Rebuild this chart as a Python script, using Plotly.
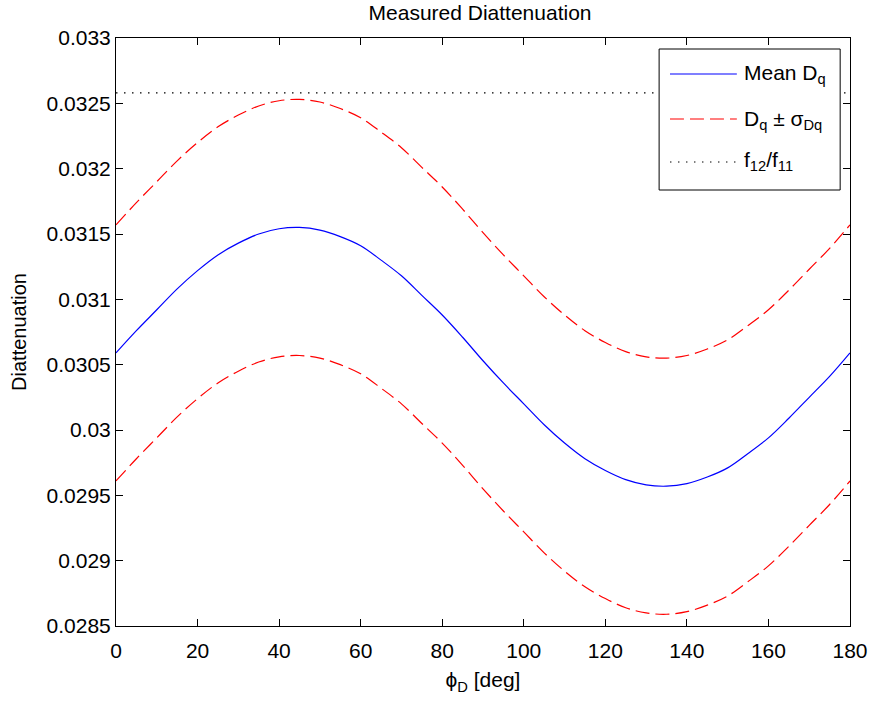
import plotly.graph_objects as go

# ---- data ----
phi_deg = [0, 5, 10, 15, 20, 25, 30, 35, 40, 45, 50, 55, 60, 65, 70, 75, 80, 85, 90,
           95, 100, 105, 110, 115, 120, 125, 130, 135, 140, 145, 150, 155, 160, 165, 170, 175, 180]
mean_dq = [0.03059, 0.03076, 0.03092, 0.03108, 0.03122, 0.03134, 0.03143, 0.03150, 0.03154, 0.03155,
           0.03153, 0.03148, 0.03141, 0.03130, 0.03118, 0.03103, 0.03088, 0.03071, 0.03053,
           0.03036, 0.03020, 0.03004, 0.02990, 0.02978, 0.02969, 0.02962, 0.02958, 0.02957,
           0.02959, 0.02964, 0.02971, 0.02982, 0.02994, 0.03009, 0.03025, 0.03041, 0.03059]
sigma_dq = [0.00098] * len(phi_deg)
f12_f11 = 0.03258

x_ticks = [0, 20, 40, 60, 80, 100, 120, 140, 160, 180]
y_ticks = [0.0285, 0.029, 0.0295, 0.03, 0.0305, 0.031, 0.0315, 0.032, 0.0325, 0.033]
y_tick_text = ["0.0285", "0.029", "0.0295", "0.03", "0.0305", "0.031", "0.0315", "0.032", "0.0325", "0.033"]

upper = [m + s for m, s in zip(mean_dq, sigma_dq)]
lower = [m - s for m, s in zip(mean_dq, sigma_dq)]

FONT = "Liberation Sans, Arial, sans-serif"
FS = 21
DASH = "14px,6px"
DOT = "1.5px,6.5px"

fig = go.Figure()
fig.add_trace(go.Scatter(x=[phi_deg[0], phi_deg[-1]], y=[f12_f11, f12_f11], mode="lines",
                         line=dict(color="black", width=1.2, dash=DOT), showlegend=False))
fig.add_trace(go.Scatter(x=phi_deg, y=upper, mode="lines", line_shape="spline",
                         line=dict(color="red", width=1.2, dash=DASH), showlegend=False))
fig.add_trace(go.Scatter(x=phi_deg, y=lower, mode="lines", line_shape="spline",
                         line=dict(color="red", width=1.2, dash=DASH), showlegend=False))
fig.add_trace(go.Scatter(x=phi_deg, y=mean_dq, mode="lines", line_shape="spline",
                         line=dict(color="blue", width=1.2), showlegend=False))

# legend box (drawn manually to mimic the MATLAB legend)
W, H = 880, 701
L, R, T, B = 116, 18, 38, 75
pw, ph = W - L - R, H - T - B
def px(x): return (x - L) / pw
def py(y): return (H - B - y) / ph

shapes = [dict(type="rect", xref="paper", yref="paper", x0=px(668), x1=px(852), y0=py(190), y1=py(49),
               fillcolor="white", line=dict(color="black", width=1), layer="above")]
rows = [(74, 74, "blue", "solid", "Mean D<sub>q</sub>"),
        (119, 120, "red", DASH, "D<sub>q</sub> ± σ<sub>Dq</sub>"),
        (162, 161, "black", DOT, "f<sub>12</sub>/f<sub>11</sub>")]
annotations = []
for yl, yt, col, dash, txt in rows:
    shapes.append(dict(type="line", xref="paper", yref="paper", x0=px(679), x1=px(747), y0=py(yl), y1=py(yl),
                       line=dict(color=col, width=1.2, dash=dash), layer="above"))
    annotations.append(dict(xref="paper", yref="paper", x=px(752), y=py(yt), text=txt, showarrow=False,
                            xanchor="left", yanchor="middle", font=dict(family=FONT, size=FS, color="black")))

fig.update_layout(
    width=W, height=H, margin=dict(l=L, r=R, t=T, b=B),
    paper_bgcolor="white", plot_bgcolor="white",
    font=dict(family=FONT, size=FS, color="black"),
    title=dict(text="Measured Diattenuation", x=px(486), xref="paper", xanchor="center",
               y=1 - 13 / H, yanchor="middle", font=dict(family=FONT, size=FS, color="black")),
    shapes=shapes, annotations=annotations, showlegend=False,
)
fig.update_xaxes(range=[0, 180], tickvals=x_ticks, ticks="inside", ticklen=7, tickcolor="black",
                 showline=True, linecolor="black", linewidth=1, mirror="allticks", showgrid=False,
                 zeroline=False, ticklabelstandoff=6, tickfont=dict(size=FS),
                 title=dict(text="ϕ<sub>D</sub> [deg]", standoff=11, font=dict(size=FS)))
fig.update_yaxes(range=[0.0285, 0.033], tickvals=y_ticks, ticktext=y_tick_text, ticks="inside", ticklen=7,
                 tickcolor="black", showline=True, linecolor="black", linewidth=1, mirror="allticks",
                 showgrid=False, zeroline=False, tickfont=dict(size=FS),
                 title=dict(text="Diattenuation", standoff=14, font=dict(size=20)))

fig.write_html("out.html")
